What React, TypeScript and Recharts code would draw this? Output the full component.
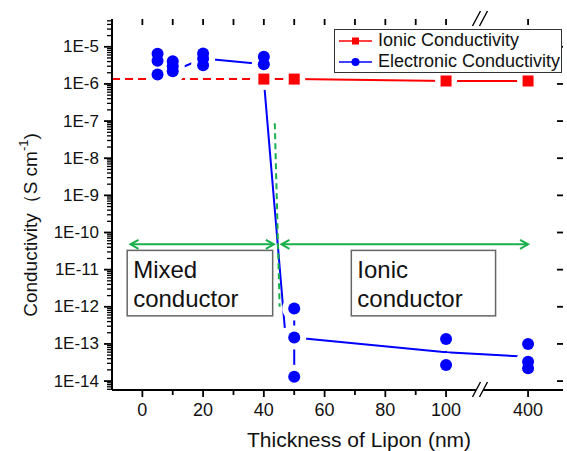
import React from "react";
import { ComposedChart, Line, XAxis, YAxis, ReferenceArea } from "recharts";

const BLUE = "#0000ff";
const RED = "#ff0000";
const GREEN = "#19b04b";
const INK = "#111";
const FONT = "Arial, 'Liberation Sans', sans-serif";

// film thickness (nm) and the measured electronic conductivity (S/cm) at each one
const thickness = [5, 10, 20, 40, 50, 100, 400];
const electronic = [
  [6.5e-6, 4.2e-6, 1.8e-6],
  [4.1e-6, 3.0e-6, 2.2e-6],
  [6.6e-6, 4.8e-6, 3.2e-6],
  [5.4e-6, 3.4e-6],
  [9.0e-13, 1.5e-13, 1.3e-14],
  [1.35e-13, 2.7e-14],
  [1.0e-13, 3.3e-14, 2.2e-14],
];

// guide line through the electronic values
const mixedTrendX = [10, 20, 40];
const mixedTrendY = [2.2e-6, 4.8e-6, 3.4e-6];
const ionicTrendX = [50, 100, 400];
const ionicTrendY = [1.5e-13, 6.0e-14, 4.5e-14];

// drop from mixed to ionic behaviour
const dropX = [40, 46.9];
const dropY = [1.25e-6, 2.7e-13];

// ionic conductivity
const ionicX = [40, 50, 100, 400];
const ionicY = [1.35e-6, 1.35e-6, 1.2e-6, 1.2e-6];
const ionicLeadX = [-10, 40];

// boundary + region arrows
const boundaryX = [43.6, 45.2];
const boundaryY = [8.7e-8, 1e-12];
const arrowY = 4.8e-11;
const mixedArrowX = [-3.9, 43.3];
const ionicArrowX = [45.8, 400];

// text boxes
const mixedBoxX = [-5.0, 42.9];
const ionicBoxX = [68.8, 116.3];
const boxY = [5.7e-13, 3.3e-11];

// axes
const X_MIN = -10;
const X_MAX = 138.5;
const POS_400 = 127; // where 400 nm sits after the axis break
const BREAK_AT = 111;
const Y_MIN = 5.75e-15;
const Y_MAX = 5.6e-5;
const xMajor = [0, 20, 40, 60, 80, 100, 400];
const xLabels = ["0", "20", "40", "60", "80", "100", "400"];
const xMinor = [10, 30, 50, 70, 90];
const yMajor = [1e-14, 1e-13, 1e-12, 1e-11, 1e-10, 1e-9, 1e-8, 1e-7, 1e-6, 1e-5];
const yLabels = ["1E-14", "1E-13", "1E-12", "1E-11", "1E-10", "1E-9", "1E-8", "1E-7", "1E-6", "1E-5"];

const pos = (nm: number) => (nm > 100 ? POS_400 : nm);
const pts = (xs: number[], ys: number[]) => xs.map((x, i) => ({ x: pos(x), y: ys[i] }));

const yMinor: number[] = [];
for (let e = -15; e <= -5; e++) {
  for (let k = 2; k <= 9; k++) {
    const v = k * Math.pow(10, e);
    if (v > Y_MIN && v < Y_MAX) yMinor.push(v);
  }
}
const xTicks = [...xMajor.map(pos), ...xMinor].sort((a, b) => a - b);

const electronicPts = thickness.flatMap((t, i) => electronic[i].map((v) => ({ x: pos(t), y: v })));
const ionicPts = pts(ionicX, ionicY);

function BreakMark({ x, y }: { x: number; y: number }) {
  return (
    <g>
      <polygon points={`${x - 7},${y + 7} ${x + 1},${y - 8} ${x + 8},${y - 8} ${x},${y + 7}`} fill="#fff" />
      <line x1={x - 7} y1={y + 7} x2={x + 1} y2={y - 8} stroke="#000" strokeWidth={1.4} />
      <line x1={x} y1={y + 7} x2={x + 8} y2={y - 8} stroke="#000" strokeWidth={1.4} />
    </g>
  );
}

// plain tick mark drawn as a thin filled rect
function Mark({ x1, y1, x2, y2, w }: { x1: number; y1: number; x2: number; y2: number; w: number }) {
  const x = Math.min(x1, x2) - (x1 === x2 ? w / 2 : 0);
  const y = Math.min(y1, y2) - (y1 === y2 ? w / 2 : 0);
  const width = x1 === x2 ? w : Math.abs(x2 - x1);
  const height = y1 === y2 ? w : Math.abs(y2 - y1);
  return <path d={`M${x},${y}h${width}v${height}h${-width}Z`} fill="#000" />;
}

const BottomTick = (p: any) => {
  const { x, y, payload } = p;
  const v = payload.value;
  if (v === BREAK_AT) return <BreakMark x={x} y={y} />;
  const idx = xMajor.map(pos).indexOf(v);
  const major = idx >= 0;
  return (
    <g>
      <Mark x1={x} y1={y} x2={x} y2={y + (major ? 7 : 5)} w={1.8} />
      {major && (
        <text x={x} y={y + 26} textAnchor="middle" fontSize={18} fontFamily={FONT} fill={INK}>
          {xLabels[idx]}
        </text>
      )}
    </g>
  );
};

const LeftTick = (p: any) => {
  const { x, y, payload } = p;
  const idx = yMajor.findIndex((m) => Math.abs(payload.value / m - 1) < 1e-6);
  return (
    <g>
      <Mark x1={x - 8} y1={y} x2={x} y2={y} w={1.8} />
      {idx >= 0 && (
        <text x={x - 13} y={y} textAnchor="end" dominantBaseline="central" fontSize={17} fontFamily={FONT} fill={INK}>
          {yLabels[idx]}
        </text>
      )}
    </g>
  );
};

// mirrored ticks (top, right) and log minor ticks, laid out on the plot frame rectangle
const frameShape = (p: any) => {
  const lx = (v: number) => p.x + ((v - X_MIN) / (X_MAX - X_MIN)) * p.width;
  const ly = (v: number) =>
    p.y + ((Math.log10(Y_MAX) - Math.log10(v)) / (Math.log10(Y_MAX) - Math.log10(Y_MIN))) * p.height;
  const left = p.x;
  const right = p.x + p.width;
  const top = p.y;
  return (
    <g>
      {yMinor.map((v) => (
        <Mark key={`m${v}`} x1={left - 5} y1={ly(v)} x2={left} y2={ly(v)} w={1.3} />
      ))}
      {yMajor.map((v) => (
        <Mark key={`r${v}`} x1={right - 6} y1={ly(v)} x2={right} y2={ly(v)} w={1.8} />
      ))}
      {xTicks.map((v) => (
        <Mark key={`t${v}`} x1={lx(v)} y1={top} x2={lx(v)} y2={top + 6} w={1.8} />
      ))}
      <BreakMark x={lx(BREAK_AT)} y={top} />
    </g>
  );
};

const halo = (r: number) => (p: any) => <circle key={`h${p.index}`} cx={p.cx} cy={p.cy} r={r} fill="#fff" />;
const square = (p: any) => <rect key={`s${p.index}`} x={p.cx - 5.5} y={p.cy - 5.5} width={11} height={11} fill={RED} />;
const arrowHead = (p: any) => {
  const d = p.index === 0 ? 1 : -1;
  return (
    <path
      key={`a${p.index}`}
      d={`M${p.cx + d * 8},${p.cy - 4.5} L${p.cx},${p.cy} L${p.cx + d * 8},${p.cy + 4.5}`}
      fill="none"
      stroke={GREEN}
      strokeWidth={2}
    />
  );
};

const boxShape = (lines: string[]) => (p: any) => (
  <g>
    <rect x={p.x} y={p.y} width={p.width} height={p.height} fill="#fff" stroke="#666" strokeWidth={1.5} />
    {lines.map((t, i) => (
      <text key={t} x={p.x + 6} y={p.y + 28 + i * 29} fontSize={24} fontFamily={FONT} fill={INK}>
        {t}
      </text>
    ))}
  </g>
);

function LegendRow({ color, marker, text }: { color: string; marker: string; text: string }) {
  return (
    <div style={{ display: "flex", alignItems: "center", height: 21 }}>
      <svg width={34} height={12} style={{ marginLeft: 4 }}>
        <line x1={0} y1={6} x2={33} y2={6} stroke={color} strokeWidth={1.5} />
        {marker === "square" ? (
          <rect x={13} y={2.5} width={7} height={7} fill={color} />
        ) : (
          <circle cx={16.5} cy={6} r={4} fill={color} />
        )}
      </svg>
      <span style={{ marginLeft: 5, fontSize: 18, lineHeight: "21px", color: INK }}>{text}</span>
    </div>
  );
}

export default function App() {
  return (
    <div style={{ position: "absolute", left: 0, top: 0, width: 567, height: 451, background: "#fff", fontFamily: FONT }}>
      <ComposedChart width={567} height={451} margin={{ top: 19, right: 4, bottom: 0, left: 0 }}>
        <XAxis
          type="number"
          dataKey="x"
          domain={[X_MIN, X_MAX]}
          allowDataOverflow
          ticks={[...xTicks, BREAK_AT].sort((a, b) => a - b)}
          interval={0}
          height={61}
          tickSize={0}
          tickMargin={0}
          tickLine={false}
          tick={BottomTick}
          axisLine={{ stroke: "#000", strokeWidth: 2 }}
          label={{
            content: () => (
              <text x={359} y={447} textAnchor="middle" fontSize={21} fontFamily={FONT} fill={INK}>
                Thickness of Lipon (nm)
              </text>
            ),
          }}
        />
        <XAxis
          xAxisId="top"
          orientation="top"
          type="number"
          dataKey="x"
          domain={[X_MIN, X_MAX]}
          allowDataOverflow
          height={0}
          tick={false}
          tickLine={false}
          axisLine={{ stroke: "#000", strokeWidth: 2 }}
        />
        <YAxis
          type="number"
          scale="log"
          domain={[Y_MIN, Y_MAX]}
          allowDataOverflow
          ticks={yMajor}
          interval={0}
          width={112}
          tickSize={0}
          tickMargin={0}
          tickLine={false}
          tick={LeftTick}
          axisLine={{ stroke: "#000", strokeWidth: 2 }}
          label={{
            content: () => (
              <text
                x={30}
                y={225}
                transform="rotate(-90, 30, 225)"
                textAnchor="middle"
                dominantBaseline="central"
                fontSize={19}
                fontFamily={FONT}
                fill={INK}
              >
                Conductivity（S cm
                <tspan dy={-7} fontSize={13}>-1</tspan>
                <tspan dy={7}>)</tspan>
              </text>
            ),
          }}
        />
        <YAxis
          yAxisId="right"
          orientation="right"
          type="number"
          scale="log"
          domain={[Y_MIN, Y_MAX]}
          allowDataOverflow
          width={0}
          tick={false}
          tickLine={false}
          axisLine={{ stroke: "#000", strokeWidth: 2 }}
        />

        <ReferenceArea x1={X_MIN} x2={X_MAX} y1={Y_MIN} y2={Y_MAX} shape={frameShape} ifOverflow="visible" />
        <ReferenceArea x1={mixedBoxX[0]} x2={mixedBoxX[1]} y1={boxY[0]} y2={boxY[1]} shape={boxShape(["Mixed", "conductor"])} ifOverflow="visible" />
        <ReferenceArea x1={ionicBoxX[0]} x2={ionicBoxX[1]} y1={boxY[0]} y2={boxY[1]} shape={boxShape(["Ionic", "conductor"])} ifOverflow="visible" />

        <Line data={pts(mixedTrendX, mixedTrendY)} dataKey="y" stroke={BLUE} strokeWidth={2} dot={false} isAnimationActive={false} />
        <Line data={pts(ionicTrendX, ionicTrendY)} dataKey="y" stroke={BLUE} strokeWidth={2} dot={false} isAnimationActive={false} />

        <Line data={electronicPts} dataKey="y" stroke="none" dot={halo(12)} activeDot={false} isAnimationActive={false} />
        <Line data={ionicPts} dataKey="y" stroke="none" dot={halo(11)} activeDot={false} isAnimationActive={false} />

        <Line data={ionicPts} dataKey="y" stroke={RED} strokeWidth={2} dot={square} isAnimationActive={false} />
        <Line
          data={pts(ionicLeadX, [ionicY[0], ionicY[0]])}
          dataKey="y"
          stroke={RED}
          strokeWidth={2}
          strokeDasharray="8 5"
          dot={false}
          isAnimationActive={false}
        />
        <Line data={pts(dropX, dropY)} dataKey="y" stroke={BLUE} strokeWidth={2} dot={false} isAnimationActive={false} />
        <Line
          data={pts(boundaryX, boundaryY)}
          dataKey="y"
          stroke={GREEN}
          strokeWidth={2}
          strokeDasharray="6 4"
          dot={false}
          isAnimationActive={false}
        />
        <Line data={pts(mixedArrowX, [arrowY, arrowY])} dataKey="y" stroke={GREEN} strokeWidth={2} dot={arrowHead} isAnimationActive={false} />
        <Line data={pts(ionicArrowX, [arrowY, arrowY])} dataKey="y" stroke={GREEN} strokeWidth={2} dot={arrowHead} isAnimationActive={false} />

        {thickness.map((t, i) => (
          <Line
            key={t}
            data={electronic[i].map((v) => ({ x: pos(t), y: v }))}
            dataKey="y"
            stroke={BLUE}
            strokeWidth={2}
            dot={{ r: 6, fill: BLUE, stroke: BLUE, strokeWidth: 0 }}
            isAnimationActive={false}
          />
        ))}
      </ComposedChart>

      <div
        style={{
          position: "absolute",
          left: 334,
          top: 29,
          width: 226,
          height: 42,
          border: "1.5px solid #333",
          background: "#fff",
        }}
      >
        <LegendRow color={RED} marker="square" text="Ionic Conductivity" />
        <LegendRow color={BLUE} marker="circle" text="Electronic Conductivity" />
      </div>
    </div>
  );
}
